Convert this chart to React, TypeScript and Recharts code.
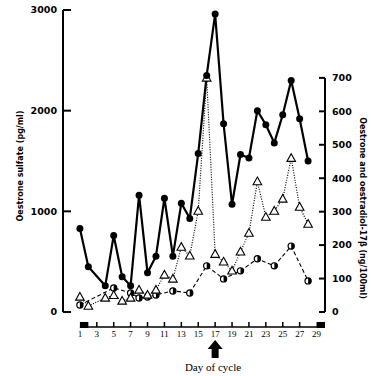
import React from 'react';
import { LineChart, Line, XAxis, YAxis, ReferenceLine, ReferenceArea } from 'recharts';

// Day of cycle for every sampled point
const days = [1, 2, 4, 5, 6, 7, 8, 9, 10, 11, 12, 13, 14, 15, 16, 17, 18, 19, 20, 21, 22, 23, 24, 25, 26, 27, 28];
// Oestrone sulfate (pg/ml) – filled circles, solid line, left axis
const oestroneSulfate = [830, 450, 260, 760, 350, 260, 1160, 390, 555, 1130, 555, 1080, 930, 1575, 2350, 2960, 1870, 1070, 1565, 1530, 2000, 1860, 1680, 1960, 2300, 1920, 1500];
// Oestrone (ng/100ml) – open triangles, dotted line, right axis
const oestrone = [45, 18, 42, 50, 33, 42, 66, 51, 66, 111, 99, 194, 168, 302, 700, 173, 150, 123, 180, 236, 390, 284, 302, 338, 460, 314, 263];
// Oestradiol-17β (ng/100ml) – half-filled circles, dashed line, right axis
const oestradiol: (number | null)[] = [21, null, null, 72, null, 57, 42, 45, 51, null, 63, null, 57, null, 138, null, 99, null, 123, null, 159, null, 138, null, 197, null, 93];

const dayTicks = [1, 3, 5, 7, 9, 11, 13, 15, 17, 19, 21, 23, 25, 27, 29];
const markerDays = [3, 5, 7, 9, 11, 13, 15, 17, 19, 21, 23, 25, 27];
const leftTicks = [0, 1000, 2000, 3000];
const rightTicks = [0, 100, 200, 300, 400, 500, 600, 700];
const blackBlocks = [[1, 2], [29, 30]];
const ovulationDay = 17;

const data = days.map((d, i) => ({
  day: d,
  sulfate: oestroneSulfate[i],
  oestrone: oestrone[i],
  oestradiol: oestradiol[i],
}));

const SANS = 'DejaVu Sans';
const SERIF = 'Liberation Serif';

const DayTick = (props: any) => {
  const { x, y, payload } = props;
  const v = payload.value;
  return (
    <g>
      {markerDays.includes(v) && (
        <line x1={x} x2={x} y1={y + 10} y2={y + 15} stroke="#000" strokeWidth={1.5} />
      )}
      <text x={x} y={y + 25} textAnchor="middle" fontFamily={SERIF} fontSize={9} fill="#000" style={{ fill: '#000' }}>
        {v}
      </text>
      {v === ovulationDay && (
        <path
          d={`M${x},${y + 28} L${x + 7.5},${y + 37} L${x + 3.5},${y + 37} L${x + 3.5},${y + 46} L${x - 3.5},${y + 46} L${x - 3.5},${y + 37} L${x - 7.5},${y + 37} Z`}
          fill="#000"
        />
      )}
    </g>
  );
};

const LeftTick = (props: any) => {
  const { x, y, payload } = props;
  return (
    <g>
      <line x1={x} x2={x + 8} y1={y} y2={y} stroke="#000" strokeWidth={2} />
      <text x={x - 6} y={y} dy="0.35em" textAnchor="end" fontFamily={SANS} fontWeight="bold" fontSize={9.5} fill="#000">
        {payload.value}
      </text>
    </g>
  );
};

const RightTick = (props: any) => {
  const { x, y, payload } = props;
  return (
    <g>
      <line x1={x - 6} x2={x} y1={y} y2={y} stroke="#000" strokeWidth={2} />
      <text x={x + 7} y={y} dy="0.35em" textAnchor="start" fontFamily={SANS} fontWeight="bold" fontSize={9.5} fill="#000">
        {payload.value}
      </text>
    </g>
  );
};

const LeftTitle = () => (
  <text
    x={20}
    y={166}
    transform="rotate(-90, 20, 166)"
    textAnchor="middle"
    dominantBaseline="central"
    fontFamily={SANS}
    fontWeight="bold"
    fontSize={8}
    fill="#000"
  >
    Oestrone sulfate (pg/ml)
  </text>
);

const RightTitle = () => (
  <text
    x={362}
    y={208}
    transform="rotate(90, 362, 208)"
    textAnchor="middle"
    dominantBaseline="central"
    fontFamily={SANS}
    fontWeight="bold"
    fontSize={8}
    fill="#000"
  >
    Oestrone and oestradiol-17β (ng/100ml)
  </text>
);

const BottomTitle = () => (
  <text x={213} y={371} textAnchor="middle" fontFamily={SERIF} fontSize={11} fill="#000">
    Day of cycle
  </text>
);

const FilledDot = (p: any) => {
  if (p.cx == null || p.cy == null || p.value == null) return <g key={p.index} />;
  return <circle key={p.index} cx={p.cx} cy={p.cy} r={3.5} fill="#000" stroke="none" />;
};

const TriDot = (p: any) => {
  if (p.cx == null || p.cy == null || p.value == null) return <g key={p.index} />;
  const { cx, cy } = p;
  return (
    <path
      key={p.index}
      d={`M${cx},${cy - 4.5} L${cx + 4.3},${cy + 3.2} L${cx - 4.3},${cy + 3.2} Z`}
      fill="#fff"
      stroke="#000"
      strokeWidth={1.1}
    />
  );
};

const HalfDot = (p: any) => {
  if (p.cx == null || p.cy == null || p.value == null) return <g key={p.index} />;
  const { cx, cy } = p;
  const r = 3.1;
  return (
    <g key={p.index}>
      <circle cx={cx} cy={cy} r={r} fill="#fff" stroke="#000" strokeWidth={1.2} />
      <path d={`M${cx},${cy - r} A${r},${r} 0 0 1 ${cx},${cy + r} Z`} fill="#000" />
    </g>
  );
};

export default function App() {
  return (
    <div style={{ position: 'absolute', left: 0, top: 0, background: '#fff' }}>
      <LineChart width={371} height={376} data={data} margin={{ top: 10, right: 0, bottom: 0, left: 0 }}>
        <XAxis
          dataKey="day"
          type="number"
          domain={[-1, 30]}
          ticks={dayTicks}
          interval={0}
          axisLine={false}
          tickLine={false}
          tickSize={0}
          tickMargin={0}
          height={64}
          tick={<DayTick />}
          label={<BottomTitle />}
        />
        <YAxis
          yAxisId="left"
          orientation="left"
          domain={[0, 3000]}
          ticks={leftTicks}
          interval={0}
          width={63}
          axisLine={{ stroke: '#000', strokeWidth: 2 }}
          tickLine={false}
          tickSize={0}
          tickMargin={0}
          tick={<LeftTick />}
          label={<LeftTitle />}
        />
        <YAxis
          yAxisId="right"
          orientation="right"
          domain={[0, 903]}
          ticks={rightTicks}
          interval={0}
          width={46}
          axisLine={false}
          tickLine={false}
          tickSize={0}
          tickMargin={0}
          tick={<RightTick />}
          label={<RightTitle />}
        />

        <ReferenceLine
          yAxisId="right"
          segment={[{ x: 30, y: 0 }, { x: 30, y: 700 }]}
          stroke="#000"
          strokeWidth={2}
          ifOverflow="visible"
        />
        <ReferenceLine
          yAxisId="left"
          segment={[{ x: 1, y: -149 }, { x: 30, y: -149 }]}
          stroke="#000"
          strokeWidth={1.5}
          ifOverflow="visible"
        />
        {blackBlocks.map(([a, b]) => (
          <ReferenceArea
            key={a}
            yAxisId="left"
            x1={a}
            x2={b}
            y1={-159}
            y2={-99}
            fill="#000"
            fillOpacity={1}
            stroke="none"
            ifOverflow="visible"
          />
        ))}

        <Line
          yAxisId="right"
          dataKey="oestradiol"
          stroke="#000"
          strokeWidth={1.1}
          strokeDasharray="4 2.5"
          connectNulls
          dot={HalfDot}
          isAnimationActive={false}
        />
        <Line
          yAxisId="right"
          dataKey="oestrone"
          stroke="#000"
          strokeWidth={1.2}
          strokeDasharray="1 1.5"
          connectNulls
          dot={TriDot}
          isAnimationActive={false}
        />
        <Line
          yAxisId="left"
          dataKey="sulfate"
          stroke="#000"
          strokeWidth={2.2}
          connectNulls
          dot={FilledDot}
          isAnimationActive={false}
        />
      </LineChart>
    </div>
  );
}
